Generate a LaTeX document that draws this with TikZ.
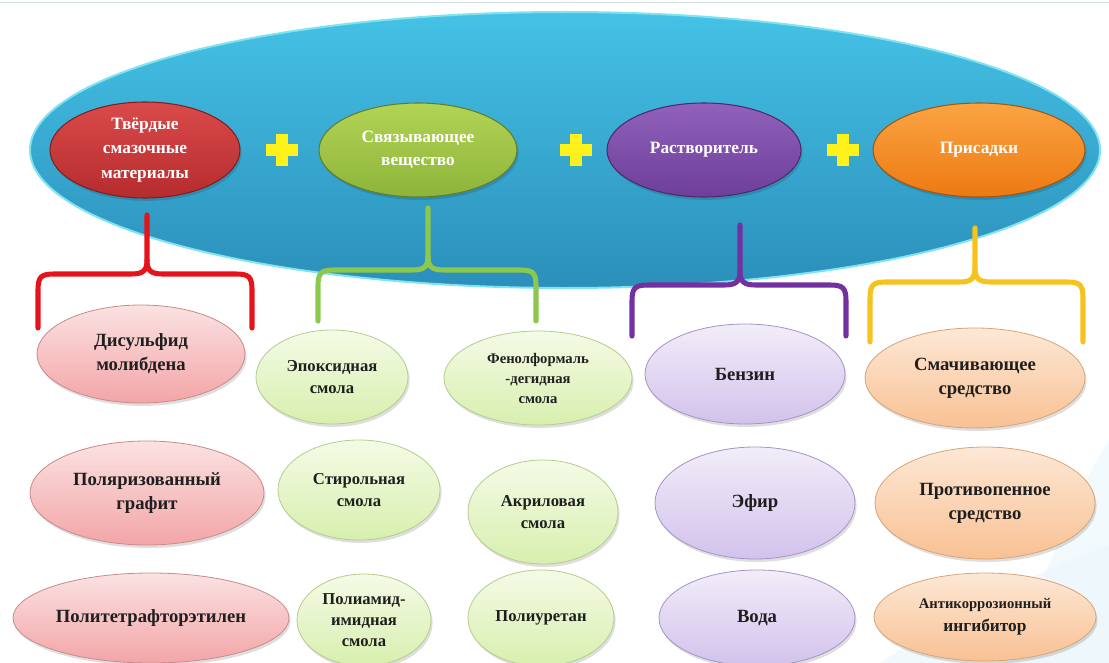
\documentclass[tikz,border=0pt]{standalone}
\usepackage{fontspec}
\setmainfont{Liberation Serif}
\usetikzlibrary{shapes.geometric,calc}
\definecolor{bigtop}{HTML}{45C2E6}
\definecolor{bigbot}{HTML}{2B8FBA}
\definecolor{bigedge}{HTML}{7FE3F2}
\definecolor{redtop}{HTML}{DA4A4A}
\definecolor{redbot}{HTML}{B52C2E}
\definecolor{grntop}{HTML}{B2D455}
\definecolor{grnbot}{HTML}{8DB43A}
\definecolor{purtop}{HTML}{9062BC}
\definecolor{purbot}{HTML}{6E3E98}
\definecolor{orgtop}{HTML}{FBA443}
\definecolor{orgbot}{HTML}{EC7A12}
\definecolor{plusy}{HTML}{FFF21A}
\definecolor{bred}{HTML}{E5131C}
\definecolor{bgrn}{HTML}{8DC84E}
\definecolor{bpur}{HTML}{7230A0}
\definecolor{byel}{HTML}{F7C21B}
\definecolor{lredtop}{HTML}{FBE2E2}
\definecolor{lredbot}{HTML}{F3A5A7}
\definecolor{lredline}{HTML}{C98A8A}
\definecolor{lgrntop}{HTML}{F4FBE6}
\definecolor{lgrnbot}{HTML}{D8EFAE}
\definecolor{lgrnline}{HTML}{B6CC8C}
\definecolor{lpurtop}{HTML}{F2EDF9}
\definecolor{lpurbot}{HTML}{D2C2EC}
\definecolor{lpurline}{HTML}{A494C4}
\definecolor{lorgtop}{HTML}{FDE8D6}
\definecolor{lorgbot}{HTML}{F8C193}
\definecolor{lorgline}{HTML}{D8A477}
\definecolor{bgblue}{HTML}{E8F5FB}
\tikzset{
  softshadow/.style={preaction={fill=black, opacity=0.13, transform canvas={xshift=1.2pt, yshift=-2.2pt}}},
  bigell/.style={ellipse, inner sep=0pt, draw=bigedge, line width=1.5pt, top color=bigtop, bottom color=bigbot},
  topell/.style={ellipse, inner sep=0pt, text=white, align=center, line width=0.8pt, softshadow,
     font=\bfseries\fontsize{13}{17}\selectfont},
  sub/.style={ellipse, inner sep=0pt, align=center, text=black!88, line width=0.6pt, softshadow,
     font=\bfseries\fontsize{14}{18}\selectfont},
  rsub/.style={sub, top color=lredtop, bottom color=lredbot, draw=lredline},
  gsub/.style={sub, top color=lgrntop, bottom color=lgrnbot, draw=lgrnline, font=\bfseries\fontsize{12.5}{16}\selectfont},
  psub/.style={sub, top color=lpurtop, bottom color=lpurbot, draw=lpurline},
  osub/.style={sub, top color=lorgtop, bottom color=lorgbot, draw=lorgline},
  bracestyle/.style={line width=3.8pt, line cap=round, line join=round}
}
\newcommand\mybrace[7]{%
  \draw[bracestyle, draw=#1] (#3,#5) -- (#3,#6-14) .. controls (#3,#6-3) and (#3-4,#6) .. (#3-16,#6) -- (#2+16,#6) .. controls (#2+3,#6) and (#2,#6+3) .. (#2,#6+16) -- (#2,#7);
  \draw[bracestyle, draw=#1] (#3,#6-14) .. controls (#3,#6-3) and (#3+4,#6) .. (#3+16,#6) -- (#4-16,#6) .. controls (#4-3,#6) and (#4,#6+3) .. (#4,#6+16) -- (#4,#7);
}
\newcommand\myplus[2]{%
  \fill[plusy] (#1-16,#2-6) rectangle (#1+16,#2+6);
  \fill[plusy] (#1-6,#2-16) rectangle (#1+6,#2+16);
}
\begin{document}
\begin{tikzpicture}[x=0.75pt,y=-0.75pt]
\useasboundingbox (0,0) rectangle (1109,663);
% faint background swoosh
\fill[bgblue, opacity=0.6] (880,663) .. controls (960,610) and (1040,570) .. (1109,545) -- (1109,663) -- cycle;
\fill[bgblue, opacity=0.5] (1000,663) .. controls (1040,600) and (1070,500) .. (1109,440) -- (1109,663) -- cycle;
\draw[bgblue!80!gray, line width=0.6pt] (0,2) -- (1109,2);

% big ellipse
\node[bigell, minimum width=802.5pt, minimum height=207pt] (main) at (565,150) {};

% top ellipses
\node[topell, minimum width=142.5pt, minimum height=72pt, top color=redtop, bottom color=redbot, draw=redbot!70!black, font=\bfseries\fontsize{13}{18.5}\selectfont] (t1) at (145,150) {Твёрдые\\смазочные\\материалы};
\node[topell, minimum width=148.5pt, minimum height=70.5pt, top color=grntop, bottom color=grnbot, draw=grnbot!70!black] (t2) at (418,150) {Связывающее\\вещество};
\node[topell, minimum width=145.5pt, minimum height=70.5pt, top color=purtop, bottom color=purbot, draw=purbot!70!black] (t3) at (704,150) {Растворитель};
\node[topell, minimum width=159pt, minimum height=70.5pt, top color=orgtop, bottom color=orgbot, draw=orgbot!70!black] (t4) at (979,150) {Присадки};

% plus signs
\myplus{282}{150}
\myplus{576}{150}
\myplus{843}{150}

% braces
\mybrace{bred}{38}{147}{252}{215}{274}{328}
\mybrace{bgrn}{318}{428}{536}{208}{270}{321}
\mybrace{bpur}{632}{740}{846}{225}{285}{336}
\mybrace{byel}{870}{975}{1083}{228}{282}{342}

% lower ellipses
\node[rsub, minimum width=156pt, minimum height=73.5pt] (d1) at (141,354) {Дисульфид\\молибдена};
\node[rsub, minimum width=175.5pt, minimum height=78pt] (d2) at (147,493) {Поляризованный\\графит};
\node[rsub, minimum width=207pt, minimum height=67.5pt] (d3) at (151,618) {Политетрафторэтилен};

\node[gsub, minimum width=114pt, minimum height=70.5pt] (g1) at (332,377) {Эпоксидная\\смола};
\node[gsub, minimum width=141pt, minimum height=70.5pt, font=\bfseries\fontsize{11}{15}\selectfont] (g2) at (538,378) {Фенолформаль\\-дегидная\\смола};
\node[gsub, minimum width=121.5pt, minimum height=75pt] (g3) at (359,490) {Стирольная\\смола};
\node[gsub, minimum width=112.5pt, minimum height=78pt] (g4) at (543,512) {Акриловая\\смола};
\node[gsub, minimum width=100.5pt, minimum height=69pt] (g5) at (364,620) {Полиамид-\\имидная\\смола};
\node[gsub, minimum width=109.5pt, minimum height=72pt] (g6) at (541,618) {Полиуретан};

\node[psub, minimum width=150pt, minimum height=75pt] (p1) at (745,374) {Бензин};
\node[psub, minimum width=150pt, minimum height=84pt] (p2) at (755,503) {Эфир};
\node[psub, minimum width=147pt, minimum height=72pt] (p3) at (757,618) {Вода};

\node[osub, minimum width=165pt, minimum height=75pt] (o1) at (975,378) {Смачивающее\\средство};
\node[osub, minimum width=165pt, minimum height=84pt] (o2) at (985,503) {Противопенное\\средство};
\node[osub, minimum width=166.5pt, minimum height=66pt, font=\bfseries\fontsize{13}{17}\selectfont] (o3) at (985,617) {{\fontsize{11}{14}\selectfont Антикоррозионный}\\ингибитор};
\end{tikzpicture}
\end{document}
